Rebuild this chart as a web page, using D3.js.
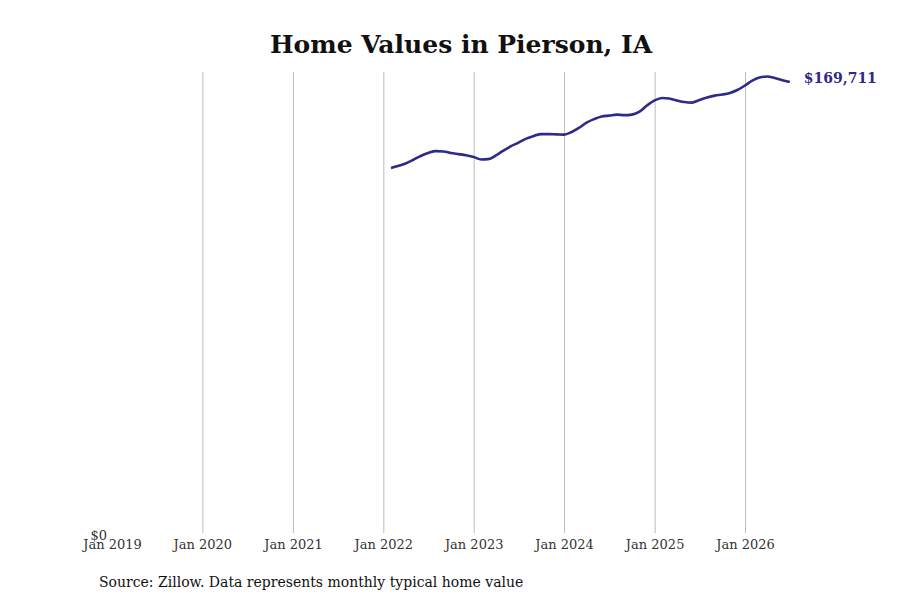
<!DOCTYPE html>
<html>
<head>
<meta charset="utf-8">
<script src="https://cdn.jsdelivr.net/npm/d3@7"></script>
<style>
  body { margin: 0; background: #fff; }
  svg { font-family: "DejaVu Serif", serif; }
  .grid line { stroke: #bdbdbd; stroke-width: 1; }
  .grid path { display: none; }
  .x.axis path, .x.axis line, .y.axis path, .y.axis line { display: none; }
  .x.axis text, .y.axis text { fill: #333; font-size: 13px; font-family: "DejaVu Serif", serif; }
  .line { fill: none; stroke: #2f2a8a; stroke-width: 2.6; }
</style>
</head>
<body>
<div id="chart-area"></div>
<script>
// monthly typical home value, Feb 2022 .. Jul 2026
const startMonth = "2022-02";
const values = [
  137500, 138200, 139200, 140500, 142000, 143100, 143800, 143700, 143100, 142700, 142300,
  141600, 140700, 140800, 142200, 144000, 145700, 147000, 148500, 149500, 150200, 150200, 150100,
  150000, 151000, 152500, 154500, 155800, 156800, 157100, 157500, 157300, 157500, 158600, 160900,
  162800, 163700, 163500, 162800, 162200, 162000, 163000, 163900, 164600, 165000, 165600, 166700,
  168400, 170300, 171400, 171750, 171200, 170400, 169711
];
const tickYears = [2019, 2020, 2021, 2022, 2023, 2024, 2025, 2026];
const yTicks = [0];
const title = "Home Values in Pierson, IA";
const source = "Source: Zillow. Data represents monthly typical home value";

let dataset = values.map((v, i) => {
  let d = new Date(startMonth + "-01T00:00:00");
  d.setMonth(d.getMonth() + i);
  return { date: d, value: v };
});

// відступи
let margin = { top: 72, right: 110, bottom: 65, left: 112 },
  width = 900 - margin.left - margin.right,
  height = 600 - margin.top - margin.bottom;

let xScale = d3
  .scaleTime()
  .domain([new Date(2019, 0, 1), new Date(2026, 0, 1)])
  .range([0, 745 - margin.left]);

let yScale = d3
  .scaleLinear()
  .domain([0, values[values.length - 1]])
  .range([height, 10]);

let line = d3
  .line()
  .x(d => xScale(d.date))
  .y(d => yScale(d.value))
  .curve(d3.curveMonotoneX);

let root = d3
  .select("#chart-area")
  .append("svg")
  .attr("width", 900)
  .attr("height", 600);

root
  .append("text")
  .attr("x", 461)
  .attr("y", 53)
  .attr("text-anchor", "middle")
  .attr("font-weight", "bold")
  .attr("font-size", 25)
  .attr("fill", "#111")
  .text(title);

let svg = root
  .append("g")
  .attr("transform", "translate(" + margin.left + "," + margin.top + ")");

let tickDates = tickYears.map(y => new Date(y, 0, 1));

// вертикальна сітка
svg
  .append("g")
  .attr("class", "grid")
  .attr("transform", "translate(0," + (height - 2) + ")")
  .call(
    d3.axisBottom(xScale)
      .tickValues(tickDates.slice(1))
      .tickSize(-(height - 2))
      .tickFormat("")
  );

// вісь OX
svg
  .append("g")
  .attr("class", "x axis")
  .attr("transform", "translate(0," + height + ")")
  .call(
    d3.axisBottom(xScale)
      .tickValues(tickDates)
      .tickSize(0)
      .tickPadding(5)
      .tickFormat(d3.timeFormat("Jan %Y"))
  );

// вісь OY
svg
  .append("g")
  .attr("class", "y axis")
  .call(
    d3.axisLeft(yScale)
      .tickValues(yTicks)
      .tickSize(0)
      .tickPadding(5)
      .tickFormat(d => "$" + d3.format(",")(d))
  );

// лінія
svg
  .append("path")
  .datum(dataset)
  .attr("class", "line")
  .attr("d", line);

let last = dataset[dataset.length - 1];
svg
  .append("text")
  .attr("x", xScale(last.date) + 14)
  .attr("y", yScale(last.value))
  .attr("dy", "0.05em")
  .attr("font-weight", "bold")
  .attr("font-size", 14)
  .attr("fill", "#2f2a8a")
  .text("$" + d3.format(",")(last.value));

root
  .append("text")
  .attr("x", 99)
  .attr("y", 587)
  .attr("font-size", 14)
  .attr("fill", "#111")
  .text(source);
</script>
</body>
</html>
